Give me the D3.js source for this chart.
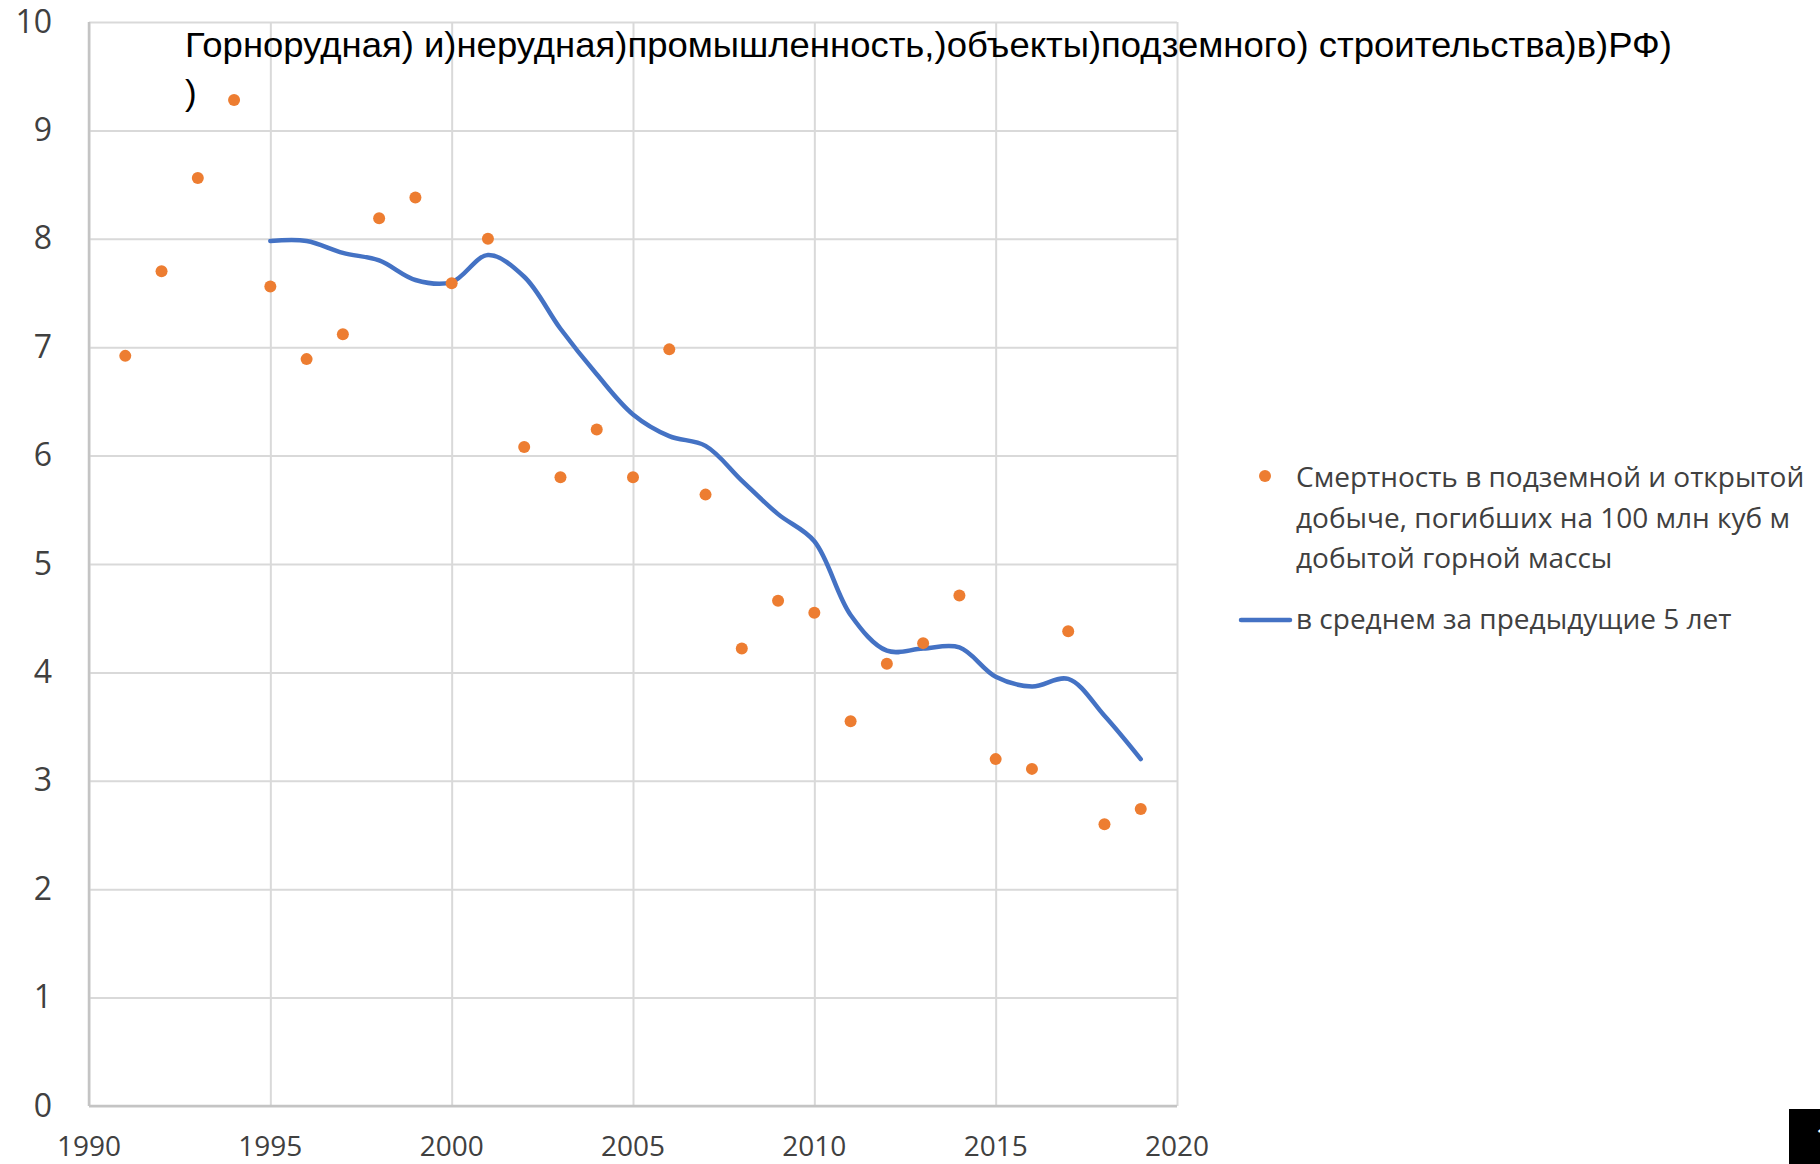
<!DOCTYPE html>
<html>
<head>
<meta charset="utf-8">
<script src="https://cdn.jsdelivr.net/npm/d3@7"></script>
<style>
  html, body { margin: 0; padding: 0; background: #fff; overflow: hidden; }
  svg { display: block; }
</style>
</head>
<body>
<script>
// values
const years = [1991, 1992, 1993, 1994, 1995, 1996, 1997, 1998, 1999, 2000,
  2001, 2002, 2003, 2004, 2005, 2006, 2007, 2008, 2009, 2010,
  2011, 2012, 2013, 2014, 2015, 2016, 2017, 2018, 2019];
const deaths = [6.92, 7.70, 8.56, 9.28, 7.56, 6.89, 7.12, 8.19, 8.38, 7.59,
  8.00, 6.08, 5.80, 6.24, 5.80, 6.98, 5.64, 4.22, 4.66, 4.55,
  3.55, 4.08, 4.27, 4.71, 3.20, 3.11, 4.38, 2.60, 2.74];

const avgYears = [1995, 1996, 1997, 1998, 1999, 2000, 2001, 2002, 2003, 2004,
  2005, 2006, 2007, 2008, 2009, 2010, 2011, 2012, 2013, 2014,
  2015, 2016, 2017, 2018, 2019];
const avg5 = [7.98, 7.98, 7.87, 7.80, 7.62, 7.60, 7.85, 7.65, 7.17, 6.75,
  6.38, 6.18, 6.09, 5.77, 5.46, 5.21, 4.53, 4.20, 4.22, 4.23,
  3.96, 3.87, 3.94, 3.60, 3.20];

const xTicks = [1990, 1995, 2000, 2005, 2010, 2015, 2020];
const yTicks = [0, 1, 2, 3, 4, 5, 6, 7, 8, 9, 10];

const titleText = "Горнорудная) и)нерудная)промышленность,)объекты)подземного) строительства)в)РФ)";
const legendDots = ["Смертность в подземной и открытой", "добыче, погибших на 100 млн куб м", "добытой горной массы"];
const legendLine = "в среднем за предыдущие 5 лет";

const width = 1820, height = 1164;
const orange = "#ED7D31", blue = "#4472C4", textCol = "#404040";
const font = "'Open Sans', 'Noto Sans', sans-serif";

const svg = d3.select("body").append("svg")
  .attr("width", width)
  .attr("height", height);

const x = d3.scaleLinear().domain([1990, 2020]).range([89, 1177]);
const y = d3.scaleLinear().domain([0, 10]).range([1106, 22]);

// grid
svg.append("g")
  .attr("transform", `translate(0,${y(0)})`)
  .call(d3.axisBottom(x).tickValues(xTicks).tickSize(-(y(0) - y(10))).tickFormat(""))
  .call(g => g.select(".domain").remove())
  .call(g => g.selectAll("line").attr("stroke", "#d9d9d9").attr("stroke-width", 2));

svg.append("g")
  .attr("transform", `translate(${x(1990)},0)`)
  .call(d3.axisLeft(y).tickValues(yTicks).tickSize(-(x(2020) - x(1990))).tickFormat(""))
  .call(g => g.select(".domain").remove())
  .call(g => g.selectAll("line").attr("stroke", "#d9d9d9").attr("stroke-width", 2));

// axis lines
svg.append("line")
  .attr("x1", x(1990)).attr("x2", x(1990))
  .attr("y1", y(10)).attr("y2", y(0))
  .attr("stroke", "#c4c4c4").attr("stroke-width", 2.5);
svg.append("line")
  .attr("x1", x(1990)).attr("x2", x(2020))
  .attr("y1", y(0)).attr("y2", y(0))
  .attr("stroke", "#c4c4c4").attr("stroke-width", 2.5);

// tick labels
svg.append("g")
  .selectAll("text")
  .data(yTicks)
  .join("text")
    .attr("x", 52)
    .attr("y", d => y(d) - 2)
    .attr("text-anchor", "end")
    .attr("dominant-baseline", "central")
    .attr("font-family", font)
    .attr("font-size", 32)
    .attr("fill", textCol)
    .text(d => d);

svg.append("g")
  .selectAll("text")
  .data(xTicks)
  .join("text")
    .attr("x", d => x(d))
    .attr("y", 1156)
    .attr("text-anchor", "middle")
    .attr("font-family", font)
    .attr("font-size", 28)
    .attr("fill", textCol)
    .text(d => d);

// title
svg.append("text")
  .attr("x", 185)
  .attr("y", 57)
  .attr("font-family", "'Liberation Sans Narrow', 'Liberation Sans', sans-serif")
  .attr("font-size", 35)
  .attr("textLength", 1487)
  .attr("lengthAdjust", "spacingAndGlyphs")
  .attr("fill", "#000")
  .text(titleText);
svg.append("text")
  .attr("x", 185)
  .attr("y", 105)
  .attr("font-family", "'Liberation Sans Narrow', 'Liberation Sans', sans-serif")
  .attr("font-size", 35)
  .attr("fill", "#000")
  .text(")");

// smoothed 5-year average
const line = d3.line()
  .x((d, i) => x(avgYears[i]))
  .y(d => y(d))
  .curve(d3.curveCatmullRom);

svg.append("path")
  .datum(avg5)
  .attr("d", line)
  .attr("fill", "none")
  .attr("stroke", blue)
  .attr("stroke-width", 4.5)
  .attr("stroke-linecap", "round")
  .attr("stroke-linejoin", "round");

// yearly points
svg.append("g")
  .selectAll("circle")
  .data(deaths)
  .join("circle")
    .attr("cx", (d, i) => x(years[i]))
    .attr("cy", d => y(d))
    .attr("r", 6)
    .attr("fill", orange);

// legend
const legend = svg.append("g");
legend.append("circle")
  .attr("cx", 1265).attr("cy", 476).attr("r", 6).attr("fill", orange);
legend.selectAll("text.dots")
  .data(legendDots)
  .join("text")
    .attr("class", "dots")
    .attr("x", 1296)
    .attr("y", (d, i) => 487 + i * 40.5)
    .attr("font-family", font)
    .attr("font-size", 28)
    .attr("fill", textCol)
    .text(d => d);
legend.append("line")
  .attr("x1", 1241).attr("x2", 1290)
  .attr("y1", 620).attr("y2", 620)
  .attr("stroke", blue).attr("stroke-width", 4.5)
  .attr("stroke-linecap", "round");
legend.append("text")
  .attr("x", 1296)
  .attr("y", 629)
  .attr("font-family", font)
  .attr("font-size", 28)
  .attr("fill", textCol)
  .text(legendLine);

// cropped slide-number box at the corner
svg.append("rect")
  .attr("x", 1789).attr("y", 1109)
  .attr("width", 31).attr("height", 55)
  .attr("fill", "#000");
svg.append("text")
  .attr("x", 1815).attr("y", 1150)
  .attr("font-family", font)
  .attr("font-size", 32)
  .attr("fill", "#fff")
  .text("1");
</script>
</body>
</html>
